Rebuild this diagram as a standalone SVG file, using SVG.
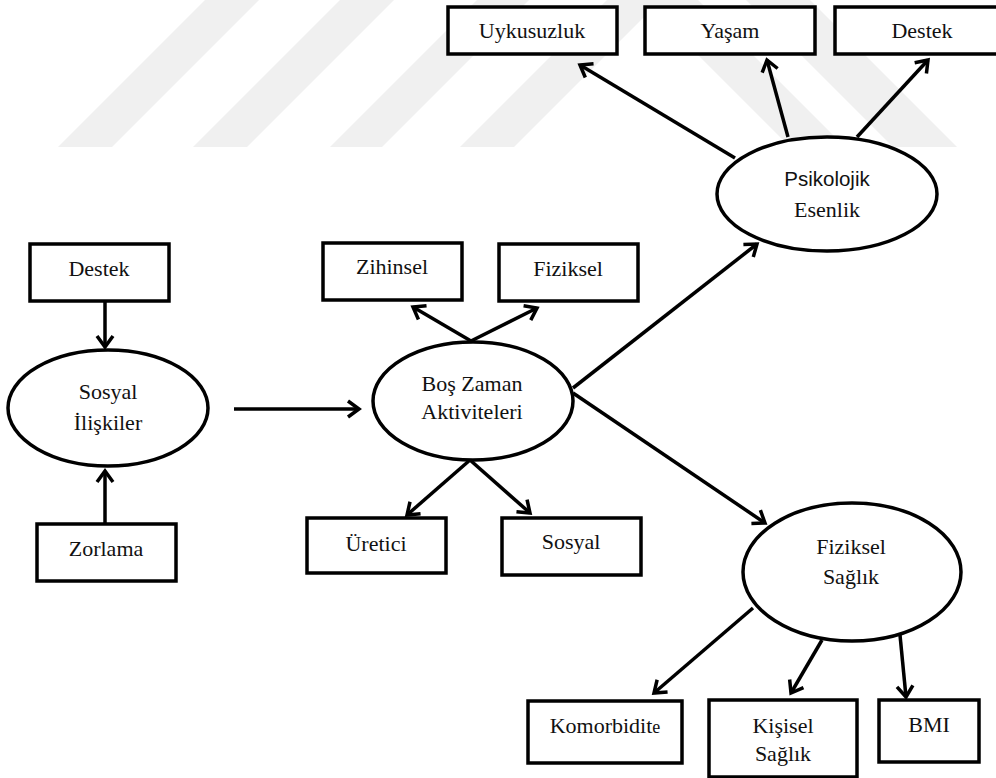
<svg xmlns="http://www.w3.org/2000/svg" width="996" height="778" viewBox="0 0 996 778">
<style>
.box{fill:#fff;stroke:#000;stroke-width:3.5}
.ell{fill:#fff;stroke:#000;stroke-width:3.5}
.t{font-size:22px;fill:#111;text-anchor:middle}
.s{font-size:20.5px;fill:#111;text-anchor:middle}
.c line{stroke:#000;stroke-width:3.5;marker-end:url(#arr)}
.wm{fill:#f0f0f0}
</style>
<defs>
<marker id="arr" markerUnits="userSpaceOnUse" markerWidth="30" markerHeight="30" refX="15" refY="15" orient="auto" overflow="visible">
<path d="M4,7 L15,15 L4,23" fill="none" stroke="#000" stroke-width="3.5" stroke-linejoin="miter"/>
</marker>
</defs>
<rect width="996" height="778" fill="#fff"/>
<g id="watermark">
<polygon class="wm" points="58,147 112,147 259,0 205,0"/>
<polygon class="wm" points="193,147 247,147 394,0 340,0"/>
<polygon class="wm" points="330,147 382,147 529,0 477,0"/>
<polygon class="wm" points="460,147 514,147 661,0 607,0"/>
<polygon class="wm" points="643,0 698,0 845,147 790,147"/>
<polygon class="wm" points="746,0 810,0 957,147 893,147"/>
</g>
<g class="c" id="connectors">
<line x1="105" y1="301" x2="105" y2="347"/>
<line x1="105" y1="524" x2="105" y2="471"/>
<line x1="234" y1="409" x2="359" y2="409"/>
<line x1="471" y1="341" x2="413" y2="307"/>
<line x1="471" y1="341" x2="537" y2="308"/>
<line x1="470" y1="460" x2="407" y2="515"/>
<line x1="470" y1="460" x2="530" y2="513"/>
<line x1="573" y1="388" x2="757" y2="244"/>
<line x1="573" y1="393" x2="765" y2="523"/>
<line x1="735" y1="158" x2="580" y2="65"/>
<line x1="788" y1="137" x2="767" y2="60"/>
<line x1="857" y1="137" x2="928" y2="60"/>
<line x1="753" y1="608" x2="654" y2="693"/>
<line x1="822" y1="640" x2="791" y2="693"/>
<line x1="900" y1="635" x2="906" y2="697"/>
</g>
<g id="nodes" font-family="'Liberation Serif', 'Times New Roman', serif">
<g id="n-uykusuzluk"><rect class="box" x="448" y="7" width="169" height="47"/><text class="t" x="532" y="38">Uykusuzluk</text></g>
<g id="n-yasam"><rect class="box" x="645" y="7" width="170" height="47"/><text class="t" x="730" y="38">Yaşam</text></g>
<g id="n-destek2"><rect class="box" x="835" y="7" width="175" height="47"/><text class="t" x="922" y="38">Destek</text></g>
<g id="n-psikolojik"><ellipse class="ell" cx="827" cy="194" rx="110" ry="57"/><text class="s" x="827" y="186" font-family="'Liberation Sans', Arial, sans-serif">Psikolojik</text><text class="t" x="827" y="217">Esenlik</text></g>
<g id="n-destek1"><rect class="box" x="30" y="244" width="139" height="57"/><text class="t" x="99" y="276">Destek</text></g>
<g id="n-zihinsel"><rect class="box" x="323" y="243" width="139" height="57"/><text class="t" x="392" y="274">Zihinsel</text></g>
<g id="n-fiziksel"><rect class="box" x="499" y="244" width="139" height="57"/><text class="t" x="568" y="276">Fiziksel</text></g>
<g id="n-sosyaliliskiler"><ellipse class="ell" cx="108" cy="408" rx="100" ry="58"/><text class="t" x="108" y="399">Sosyal</text><text class="t" x="108" y="430">İlişkiler</text></g>
<g id="n-boszaman"><ellipse class="ell" cx="473" cy="401" rx="100" ry="59"/><text class="t" x="472" y="391">Boş Zaman</text><text class="t" x="472" y="419">Aktiviteleri</text></g>
<g id="n-uretici"><rect class="box" x="307" y="518" width="139" height="55"/><text class="t" x="376" y="551">Üretici</text></g>
<g id="n-sosyal"><rect class="box" x="502" y="518" width="139" height="57"/><text class="t" x="571" y="549">Sosyal</text></g>
<g id="n-zorlama"><rect class="box" x="37" y="524" width="139" height="57"/><text class="t" x="106" y="556">Zorlama</text></g>
<g id="n-fizikselsaglik"><ellipse class="ell" cx="852" cy="572" rx="109" ry="69"/><text class="t" x="851" y="554">Fiziksel</text><text class="t" x="851" y="584">Sağlık</text></g>
<g id="n-komorbidite"><rect class="box" x="528" y="701" width="154" height="62"/><text class="t" x="605" y="733">Komorbidit<tspan font-size="18">e</tspan></text></g>
<g id="n-kisisel"><rect class="box" x="709" y="700" width="148" height="77"/><text class="t" x="783" y="733">Kişisel</text><text class="t" x="783" y="761">Sağlık</text></g>
<g id="n-bmi"><rect class="box" x="879" y="700" width="100" height="62"/><text class="t" x="929" y="732">BMI</text></g>
</g>
</svg>
